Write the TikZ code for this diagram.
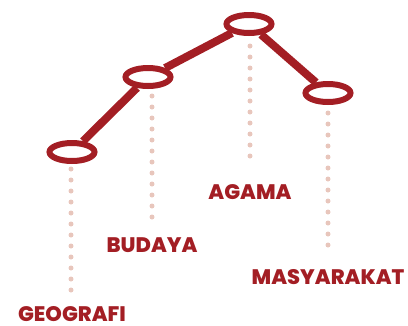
\documentclass[tikz,border=0pt]{standalone}
\usepackage{fontspec}
\setmainfont{Poppins}
\newfontfamily\lblfont{Poppins ExtraBold}
\definecolor{darkred}{HTML}{A31E24}
\definecolor{dotpink}{HTML}{E8C6BC}
\tikzset{
  stop/.style={ellipse, draw=darkred, line width=6pt, fill=white,
    minimum width=45pt, minimum height=18pt, inner sep=0pt},
  trail/.style={draw=darkred, line width=8pt},
  dots/.style={draw=dotpink, line width=5pt, line cap=round,
    dash pattern=on 0pt off 11pt},
  lbl/.style={text=darkred, font=\fontsize{21}{21}\selectfont\lblfont, anchor=base, inner sep=0pt}
}
\usetikzlibrary{shapes.geometric}
\begin{document}
\begin{tikzpicture}[x=1pt,y=-1pt]
    \useasboundingbox (0,0) rectangle (408,325);

    % Dotted drop lines (drawn first, under everything)
    \coordinate (geoTop) at (71,169);  \coordinate (geoBot) at (71,293);
    \coordinate (budTop) at (152,96);  \coordinate (budBot) at (152,218);
    \coordinate (agaTop) at (250,46);  \coordinate (agaBot) at (250,167);
    \coordinate (masTop) at (328,113); \coordinate (masBot) at (328,247);
    \draw[dots] (geoTop) -- (geoBot);
    \draw[dots] (budTop) -- (budBot);
    \draw[dots] (agaTop) -- (agaBot);
    \draw[dots] (masTop) -- (masBot);

    % The stops along the trail
    \node[stop] (geo) at (72,152) {};
    \node[stop] (bud) at (148,77) {};
    \node[stop] (aga) at (249,24) {};
    \node[stop] (mas) at (328,93) {};

    % Trail between the stops
    \draw[trail] (geo) -- (bud);
    \draw[trail] (bud) -- (aga);
    \draw[trail] (aga) -- (mas);

    % Labels
    \node[lbl] (geoLbl) at (72,321) {GEOGRAFI};
    \node[lbl] (budLbl) at (152,252) {BUDAYA};
    \node[lbl] (agaLbl) at (250,199) {AGAMA};
    \node[lbl] (masLbl) at (328,284) {MASYARAKAT};
\end{tikzpicture}
\end{document}
